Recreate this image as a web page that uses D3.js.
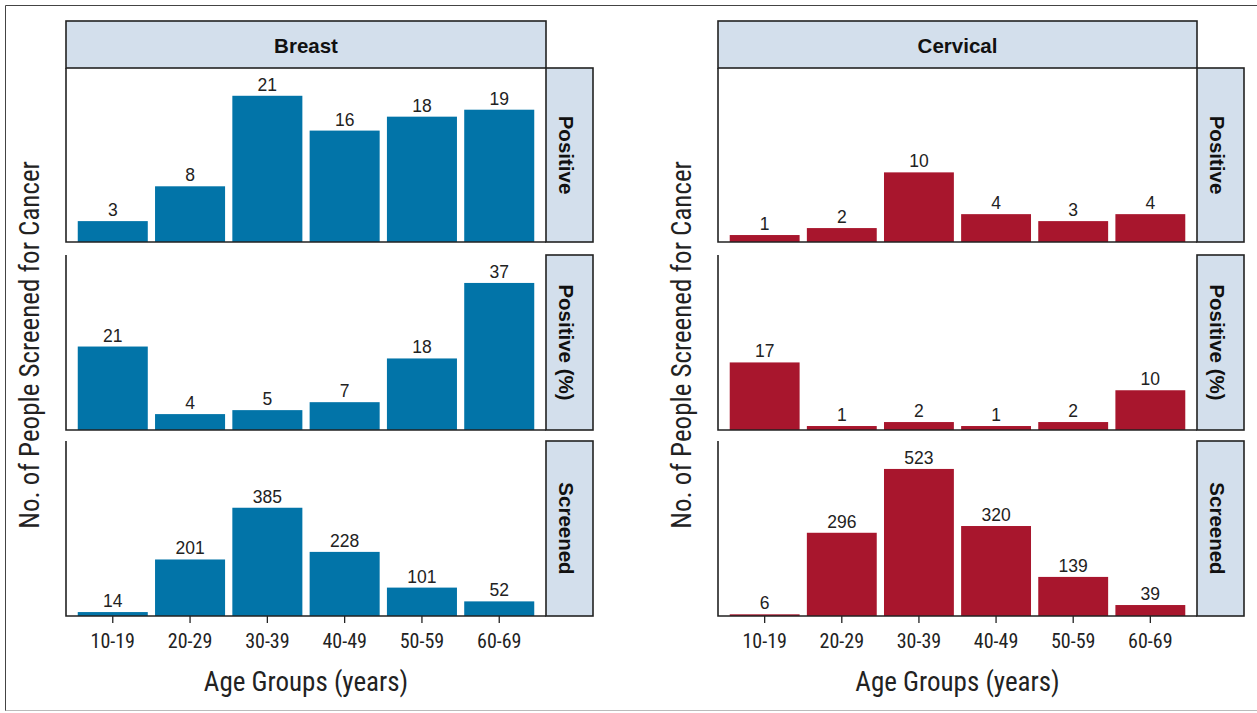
<!DOCTYPE html>
<html><head><meta charset="utf-8">
<script src="https://cdn.jsdelivr.net/npm/d3@7"></script>
<style>body{margin:0;background:#fff}svg{display:block}</style>
</head><body>
<svg id="c" width="1257" height="713"></svg>
<script>
const ageGroups = ["10-19","20-29","30-39","40-49","50-59","60-69"];
const cancers = ["Breast","Cervical"];
const rowsLabels = ["Positive","Positive (%)","Screened"];
const breastPositive = [3,8,21,16,18,19];
const breastPositivePct = [21,4,5,7,18,37];
const breastScreened = [14,201,385,228,101,52];
const cervicalPositive = [1,2,10,4,3,4];
const cervicalPositivePct = [17,1,2,1,2,10];
const cervicalScreened = [6,296,523,320,139,39];
const xTitle = "Age Groups (years)";
const yTitle = "No. of People Screened for Cancer";

const data = {
  Breast: [breastPositive, breastPositivePct, breastScreened],
  Cervical: [cervicalPositive, cervicalPositivePct, cervicalScreened]
};
const colors = {Breast:"#0274a8", Cervical:"#a8162d"};
const stripFill = "#d3dfec";
const condensed = "'Liberation Sans Narrow','Arial Narrow','Roboto Condensed',sans-serif";
const normal = "'Liberation Sans',Arial,sans-serif";

const svg = d3.select("#c");
// outer frame
svg.append("line").attr("x1",5.5).attr("x2",1257).attr("y1",5.5).attr("y2",5.5).attr("stroke","#444").attr("stroke-width",1);
svg.append("line").attr("x1",5.5).attr("x2",5.5).attr("y1",5.5).attr("y2",711).attr("stroke","#444").attr("stroke-width",1);
svg.append("line").attr("x1",5.5).attr("x2",1257).attr("y1",710.5).attr("y2",710.5).attr("stroke","#bbb").attr("stroke-width",1);

const colX = [[66,546],[718,1197]];
const stripW = 47;
const headerTop = 21, headerBot = 68;
const rowY = [[68,242],[255,430],[441,616]];

// shared y per row
const yScales = rowY.map((r,i)=>{
  const m = d3.max(cancers, c => d3.max(data[c][i]));
  return d3.scaleLinear().domain([0, m*1.19]).range([r[1], r[0]]);
});

cancers.forEach((c,ci)=>{
  const [x0,x1] = colX[ci];
  const x = d3.scaleBand().domain(ageGroups).range([x0,x1]).paddingInner(0.094).paddingOuter(0.152);
  const g = svg.append("g");
  // header strip
  g.append("rect").attr("x",x0).attr("y",headerTop).attr("width",x1-x0).attr("height",headerBot-headerTop)
    .attr("fill",stripFill).attr("stroke","#222").attr("stroke-width",1.6);
  g.append("text").attr("x",(x0+x1)/2).attr("y",52.5).attr("text-anchor","middle")
    .attr("font-family",normal).attr("font-weight","bold").attr("font-size",20.5).attr("fill","#111").text(c);

  rowY.forEach((r,ri)=>{
    const y = yScales[ri];
    const vals = data[c][ri];
    // bars
    g.append("g").selectAll("rect").data(ageGroups).join("rect")
      .attr("x",d=>x(d)).attr("width",x.bandwidth())
      .attr("y",(d,i)=>y(vals[i])).attr("height",(d,i)=>y(0)-y(vals[i]))
      .attr("fill",colors[c]);
    g.append("g").selectAll("text").data(ageGroups).join("text")
      .attr("x",d=>x(d)+x.bandwidth()/2).attr("y",(d,i)=>y(vals[i])-5)
      .attr("text-anchor","middle").attr("font-family",normal).attr("font-size",17.5).attr("fill","#222")
      .text((d,i)=>vals[i]);
    // axis lines
    g.append("path").attr("d",`M${x0},${r[0]}V${r[1]}H${x1}`).attr("fill","none").attr("stroke","#222").attr("stroke-width",1.6);
    // right strip
    g.append("rect").attr("x",x1).attr("y",r[0]).attr("width",stripW).attr("height",r[1]-r[0])
      .attr("fill",stripFill).attr("stroke","#222").attr("stroke-width",1.6);
    const cx = x1+stripW/2, cy=(r[0]+r[1])/2;
    g.append("text").attr("transform",`translate(${cx-11},${cy}) rotate(90)`).attr("text-anchor","middle")
      .attr("font-family",normal).attr("font-weight","bold").attr("font-size",20.5).attr("fill","#111").text(rowsLabels[ri]);
  });
  // x axis
  const ax = g.append("g").attr("transform",`translate(0,${rowY[2][1]})`)
    .call(d3.axisBottom(x).tickSize(7).tickPadding(11).tickSizeOuter(0));
  ax.select(".domain").remove();
  ax.selectAll("line").attr("stroke","#222").attr("stroke-width",1.3);
  ax.selectAll("text").attr("font-family",condensed).attr("font-size",20).attr("fill","#222");
  g.append("text").attr("x",(x0+x1)/2).attr("y",691).attr("text-anchor","middle")
    .attr("font-family",condensed).attr("font-size",27).attr("fill","#222").text(xTitle);
  g.append("text").attr("transform",`translate(${x0-27},345) rotate(-90)`).attr("text-anchor","middle")
    .attr("font-family",condensed).attr("font-size",27).attr("fill","#222").text(yTitle);
});
</script>
</body></html>
